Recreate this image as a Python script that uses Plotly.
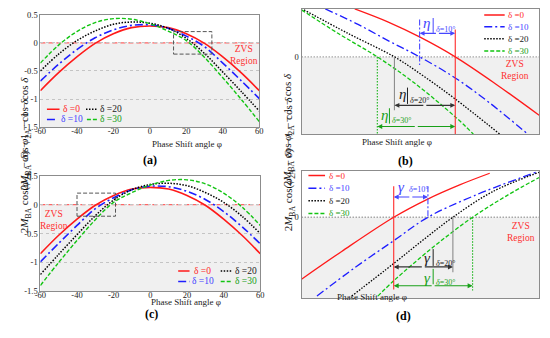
import plotly.graph_objects as go

SERIF = "Liberation Serif"

# ---------------- data ----------------
deltas = ["δ =0", "δ =10", "δ =20", "δ =30"]
colors = ["#ff1a1a", "#1e1eff", "#000000", "#12c412"]
label_colors = ["#ff2a2a", "#4646ff", "#222222", "#18a018"]

# panel (a): 2M cos(phi2A) - 1 - cos(delta) vs phase shift angle
phi_a = [-60, -50, -40, -30, -20, -10, 0, 10, 20, 30, 40, 50, 60]
a_d0 = [-0.85, -0.53, -0.25, -0.01, 0.16, 0.27, 0.30, 0.27, 0.16, -0.01, -0.25, -0.53, -0.85]
a_d10 = [-0.68, -0.38, -0.12, 0.09, 0.23, 0.31, 0.32, 0.26, 0.12, -0.07, -0.36, -0.67, -0.99]
a_d20 = [-0.50, -0.20, 0.04, 0.21, 0.33, 0.37, 0.35, 0.26, 0.08, -0.19, -0.52, -0.86, -1.21]
a_d30 = [-0.36, -0.04, 0.20, 0.36, 0.43, 0.42, 0.34, 0.21, 0.04, -0.26, -0.62, -1.00, -1.40]

# panel (c): 2M cos(phi2A - delta) - 1 - cos(delta)
phi_c = [-60, -50, -40, -30, -20, -10, 0, 10, 20, 30, 40, 50, 60]
c_d0 = [-0.85, -0.53, -0.25, -0.01, 0.16, 0.27, 0.30, 0.27, 0.16, -0.01, -0.25, -0.53, -0.85]
c_d10 = [-0.99, -0.67, -0.36, -0.07, 0.12, 0.26, 0.32, 0.31, 0.23, 0.09, -0.12, -0.38, -0.68]
c_d20 = [-1.21, -0.86, -0.52, -0.19, 0.08, 0.26, 0.35, 0.37, 0.33, 0.21, 0.04, -0.20, -0.50]
c_d30 = [-1.40, -1.00, -0.62, -0.26, 0.04, 0.21, 0.34, 0.42, 0.43, 0.36, 0.20, -0.04, -0.36]

tick_x = [-60, -40, -20, 0, 20, 40, 60]
tick_x_text = ["-60", "-40", "-20", "0", "20", "40", "60"]
tick_y = [0.5, 0, -0.5, -1, -1.5]
tick_y_text = ["0.5", "0", "-0.5", "-1", "-1.5"]

# panel (b): zoomed schematic (relative units)
b_d0_x = [22.4, 36.3, 50.1, 64.7, 82.0, 100.0]
b_d0_y = [1.0, 0.73, 0.405, 0.0, -0.574, -1.216]
b_d10_x = [10.0, 23.8, 37.0, 49.7, 64.7, 79.2, 95.2]
b_d10_y = [1.0, 0.676, 0.324, 0.0, -0.439, -0.959, -1.608]
b_d20_x = [1.0, 19.7, 39.1, 51.5, 64.7, 83.4]
b_d20_y = [0.98, 0.486, 0.0, -0.405, -0.878, -1.608]
b_d30_x = [0.0, 15.5, 31.9, 47.4, 64.7, 72.3]
b_d30_y = [0.98, 0.486, 0.0, -0.54, -1.25, -1.608]
b_cross_x = [64.7, 49.7, 39.1, 31.9]
b_vline_top = [0.57, 0.78, 0.0, 0.0]
b_vline_bot = [-1.608, -0.17, -1.11, -1.608]
b_arrow_y = [None, 0.49, -1.01, -1.45]

# panel (d): zoomed schematic (relative units)
d_d0_x = [0.0, 16.9, 38.8, 52.9, 66.8, 79.2]
d_d0_y = [-1.284, -0.709, 0.0, 0.372, 0.676, 0.912]
d_d10_x = [6.5, 22.4, 38.8, 53.2, 72.3, 98.6]
d_d10_y = [-1.635, -1.047, -0.486, 0.0, 0.439, 0.932]
d_d20_x = [21.1, 38.8, 51.5, 63.7, 80.3, 100.0]
d_d20_y = [-1.635, -0.959, -0.459, 0.0, 0.527, 0.932]
d_d30_x = [32.1, 38.8, 55.7, 72.0, 86.1, 100.0]
d_d30_y = [-1.635, -1.318, -0.608, 0.0, 0.439, 0.824]
d_cross_x = [38.8, 53.2, 63.7, 72.0]
d_vline_top = [0.64, 0.64, 0.0, 0.0]
d_vline_bot = [-1.5, 0.0, -1.14, -1.52]
d_arrow_y = [None, 0.42, -1.03, -1.42]

# ---------------- styles ----------------
dashes = ["solid", "8px,3px,2px,3px", "1.5px,1.5px", "4px,2px"]
widths = [1.6, 1.6, 1.5, 1.4]

fig = go.Figure()
shapes = []
annotations = []

A_Y = [a_d0, a_d10, a_d20, a_d30]
C_Y = [c_d0, c_d10, c_d20, c_d30]
B_XY = [(b_d0_x, b_d0_y), (b_d10_x, b_d10_y), (b_d20_x, b_d20_y), (b_d30_x, b_d30_y)]
D_XY = [(d_d0_x, d_d0_y), (d_d10_x, d_d10_y), (d_d20_x, d_d20_y), (d_d30_x, d_d30_y)]

for i in range(4):
    ln = dict(color=colors[i], dash=dashes[i], width=widths[i], shape="spline")
    fig.add_trace(go.Scatter(x=phi_a, y=A_Y[i], mode="lines", line=ln, name=deltas[i],
                             xaxis="x", yaxis="y"))
    fig.add_trace(go.Scatter(x=B_XY[i][0], y=B_XY[i][1], mode="lines", line=dict(ln, width=1.3),
                             name=deltas[i], xaxis="x2", yaxis="y2"))
    fig.add_trace(go.Scatter(x=phi_c, y=C_Y[i], mode="lines", line=ln, name=deltas[i],
                             xaxis="x3", yaxis="y3"))
    fig.add_trace(go.Scatter(x=D_XY[i][0], y=D_XY[i][1], mode="lines", line=dict(ln, width=1.3),
                             name=deltas[i], xaxis="x4", yaxis="y4"))

# ---- shaded ZVS region and zero lines ----
for ax, xlo, xhi, ymin, zero_style in [("", -60, 60, -1.5, "red"), ("2", 0, 100, -1.608, "gray"),
                                       ("3", -60, 60, -1.5, "red"), ("4", 0, 100, -1.676, "gray")]:
    shapes.append(dict(type="rect", xref=f"x{ax}", yref=f"y{ax}", x0=xlo, x1=xhi,
                       y0=ymin, y1=0, fillcolor="#f0f0f0", line=dict(width=0), layer="below"))
    if zero_style == "red":
        shapes.append(dict(type="line", xref=f"x{ax}", yref=f"y{ax}", x0=xlo, x1=xhi,
                           y0=0, y1=0, line=dict(color="#ff6464", dash="5px,3px", width=1.2),
                           layer="below"))
    else:
        shapes.append(dict(type="line", xref=f"x{ax}", yref=f"y{ax}", x0=xlo, x1=xhi,
                           y0=0, y1=0, line=dict(color="#a8a8a8", dash="1.5px,1.5px", width=1.3),
                           layer="below"))

# zoom boxes
shapes.append(dict(type="rect", xref="x", yref="y", x0=13, x1=34, y0=-0.2, y1=0.2,
                   line=dict(color="#555555", dash="4px,2px", width=1)))
shapes.append(dict(type="rect", xref="x3", yref="y3", x0=-40, x1=-19, y0=-0.2, y1=0.2,
                   line=dict(color="#555555", dash="4px,2px", width=1)))

# ZVS region labels
for xr, yr, x, y in [("x", "y", 51.5, -0.22), ("x3", "y3", -52.8, -0.27),
                     ("x2", "y2", 89.7, -0.28), ("x4", "y4", 92.5, -0.30)]:
    annotations.append(dict(xref=xr, yref=yr, x=x, y=y, text="ZVS<br>Region", showarrow=False,
                            font=dict(family=SERIF, size=9.5, color="#ff3030"), align="center"))

# ---- legends (drawn manually) ----
def legend_entry(xr, yr, x0, x1, y, i, tx, size=9.5):
    shapes.append(dict(type="line", xref=xr, yref=yr, x0=x0, x1=x1, y0=y, y1=y,
                       line=dict(color=colors[i], dash=dashes[i], width=1.5)))
    annotations.append(dict(xref=xr, yref=yr, x=tx, y=y, text=deltas[i], showarrow=False,
                            xanchor="left", font=dict(family=SERIF, size=size, color=label_colors[i])))

# (a)
legend_entry("x", "y", -56.4, -49.5, -1.18, 0, -48.5)
legend_entry("x", "y", -35.0, -28.6, -1.18, 2, -28.2)
legend_entry("x", "y", -56.4, -50.5, -1.36, 1, -50.0)
legend_entry("x", "y", -34.5, -28.6, -1.36, 3, -28.2)
# (c)
legend_entry("x3", "y3", 15.2, 21.4, -1.15, 0, 22.5)
legend_entry("x3", "y3", 38.4, 44.6, -1.15, 2, 45.0)
legend_entry("x3", "y3", 15.2, 21.4, -1.33, 1, 21.9)
legend_entry("x3", "y3", 38.4, 44.6, -1.33, 3, 45.0)
# (b)
for i, y in enumerate([0.87, 0.63, 0.38, 0.12]):
    legend_entry("x2", "y2", 76.9, 85.5, y, i, 86.0, size=9)
# (d)
for i, y in enumerate([0.865, 0.60, 0.34, 0.08]):
    legend_entry("x4", "y4", 2.9, 9.9, y, i, 10.6, size=9)

# ---- vertical guide lines and arrows in (b) and (d) ----
vcolors = ["#ff2a2a", "#4646ff", "#8c8c8c", "#18b418"]
vdash = ["solid", "6px,2px,2px,2px", "solid", "1.5px,1.5px"]
for xr, yr, cx, vt, vb, ay in [("x2", "y2", b_cross_x, b_vline_top, b_vline_bot, b_arrow_y),
                               ("x4", "y4", d_cross_x, d_vline_top, d_vline_bot, d_arrow_y)]:
    for i in range(4):
        shapes.append(dict(type="line", xref=xr, yref=yr, x0=cx[i], x1=cx[i], y0=vt[i], y1=vb[i],
                           line=dict(color=vcolors[i], dash=vdash[i], width=1.1)))
        if ay[i] is not None:
            acol = label_colors[i] if i != 2 else "#333333"
            mid = (cx[0] + cx[i]) / 2
            for tip in (cx[0], cx[i]):
                annotations.append(dict(xref=xr, yref=yr, axref=xr, ayref=yr, x=tip, y=ay[i],
                                        ax=mid, ay=ay[i], text="", showarrow=True,
                                        arrowhead=2, arrowsize=0.9, arrowwidth=1.1,
                                        arrowcolor=acol))

# interval labels (eta / gamma)
def interval_label(xr, yr, sym, i, sx, sy, bar, subx, suby):
    annotations.append(dict(xref=xr, yref=yr, x=sx, y=sy, text=f"<i>{sym}</i>", showarrow=False,
                            font=dict(family=SERIF, size=15, color=label_colors[i])))
    if bar is not None:
        shapes.append(dict(type="line", xref=xr, yref=yr, x0=bar[0], x1=bar[0], y0=bar[1], y1=bar[2],
                           line=dict(color=label_colors[i], width=1)))
    annotations.append(dict(xref=xr, yref=yr, x=subx, y=suby, xanchor="left",
                            text=f"<i>δ</i>={deltas[i].split('=')[1]}°", showarrow=False,
                            font=dict(family=SERIF, size=8, color=label_colors[i])))

interval_label("x2", "y2", "η", 1, 52.6, 0.70, (55.4, 0.50, 0.81), 55.8, 0.57)
interval_label("x2", "y2", "η", 2, 42.4, -0.78, (44.6, -0.64, -0.98), 45.0, -0.91)
interval_label("x2", "y2", "η", 3, 34.8, -1.22, (37.0, -1.07, -1.39), 37.4, -1.33)
interval_label("x4", "y4", "γ", 1, 42.2, 0.62, None, 44.2, 0.57)
interval_label("x4", "y4", "γ", 2, 53.2, -0.84, (55.4, -0.66, -1.01), 55.8, -0.95)
interval_label("x4", "y4", "γ", 3, 53.2, -1.27, (55.4, -1.07, -1.39), 55.8, -1.36)

# ---- axis titles and panel labels ----
ytitle_1 = "2<i>M</i><sub>BA</sub> cos <i>φ</i><sub>2A</sub> − 1 − cos <i>δ</i>"
ytitle_2 = "2<i>M</i><sub>BA</sub> cos(<i>φ</i><sub>2A</sub> − <i>δ</i>) − 1 − cos <i>δ</i>"
for x, y, t in [(11, 72, ytitle_1), (288, 68, ytitle_1), (11, 237, ytitle_2), (288, 235, ytitle_2)]:
    annotations.append(dict(xref="paper", yref="paper", x=x / 550, y=1 - y / 338, text=t,
                            textangle=-90, showarrow=False,
                            font=dict(family=SERIF, size=11, color="#111111")))
for x, y in [(147, 143), (436, 141), (146, 313), (410, 308)]:
    annotations.append(dict(xref="paper", yref="paper", x=x / 550, y=1 - y / 338,
                            text="Phase Shift angle φ", showarrow=False,
                            font=dict(family=SERIF, size=9, color="#222222")))
for x, y, t in [(137, 160, "(a)"), (417, 161, "(b)"), (140, 328, "(c)"), (415, 330, "(d)")]:
    annotations.append(dict(xref="paper", yref="paper", x=x / 550, y=1 - y / 338,
                            text=f"<b>{t}</b>", showarrow=False,
                            font=dict(family=SERIF, size=12, color="#000000")))

# ---- axes ----
frame = dict(showline=True, mirror=True, linecolor="#8c8c8c", linewidth=1, zeroline=False,
             ticks="", tickfont=dict(family=SERIF, size=8.5, color="#222222"))
main_x = dict(frame, range=[-60, 60], tickvals=tick_x, ticktext=tick_x_text, showgrid=False,
              ticklabelstandoff=-4)
main_y = dict(frame, range=[-1.5, 0.5], tickvals=tick_y, ticktext=tick_y_text, showgrid=True,
              griddash="dot", gridcolor="#c4c4c4", gridwidth=1)
zoom_x = dict(frame, range=[0, 100], showticklabels=False, showgrid=False)

fig.update_layout(
    width=550, height=338, margin=dict(l=0, r=0, t=0, b=0),
    paper_bgcolor="white", plot_bgcolor="white", showlegend=False,
    xaxis=dict(main_x, domain=[35 / 550, 258 / 550], anchor="y"),
    yaxis=dict(main_y, domain=[1 - 126 / 338, 1 - 10 / 338], anchor="x"),
    xaxis2=dict(zoom_x, domain=[301 / 550, 543 / 550], anchor="y2"),
    yaxis2=dict(frame, range=[-1.608, 1.0], tickvals=[0], ticktext=["0"], showgrid=False,
                domain=[1 - 133 / 338, 1 - 4 / 338], anchor="x2"),
    xaxis3=dict(main_x, domain=[35 / 550, 259 / 550], anchor="y3"),
    yaxis3=dict(main_y, domain=[1 - 295 / 338, 1 - 176 / 338], anchor="x3"),
    xaxis4=dict(zoom_x, domain=[301 / 550, 543 / 550], anchor="y4"),
    yaxis4=dict(frame, range=[-1.676, 0.96], tickvals=[0], ticktext=["0"], showgrid=False,
                domain=[1 - 302 / 338, 1 - 171 / 338], anchor="x4"),
    shapes=shapes, annotations=annotations,
)

fig.write_html("out.html", config={"displayModeBar": False},
               post_script="document.body.style.margin='0';document.body.style.overflow='hidden';")
